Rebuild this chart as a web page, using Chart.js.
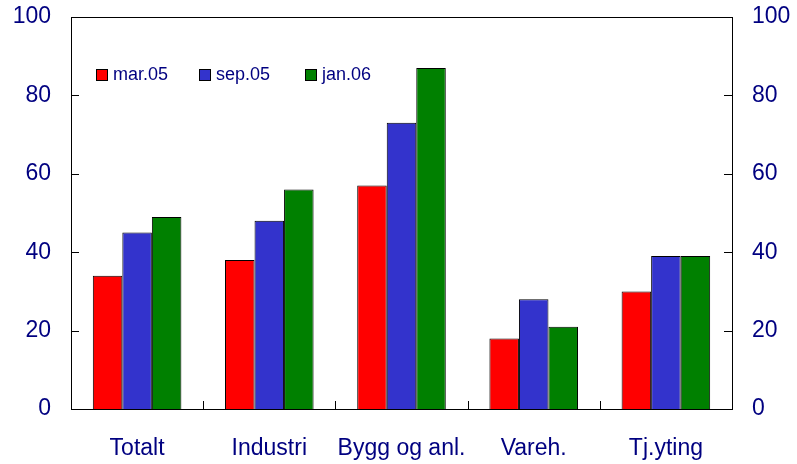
<!DOCTYPE html>
<html>
<head>
<meta charset="utf-8">
<script src="https://cdn.jsdelivr.net/npm/chart.js@4.4.0/dist/chart.umd.min.js"></script>
<style>
  html, body { margin: 0; padding: 0; background: #fff; }
</style>
</head>
<body>
<canvas id="chart" width="797" height="464"></canvas>
<script>
// chart data
const categories = ['Totalt', 'Industri', 'Bygg og anl.', 'Vareh.', 'Tj.yting'];
const seriesNames = ['mar.05', 'sep.05', 'jan.06'];
const mar05 = [34, 38, 57, 18, 30];
const sep05 = [45, 48, 73, 28, 39];
const jan06 = [49, 56, 87, 21, 39];
const yTicks = [0, 20, 40, 60, 80, 100];

const textColor = '#000080';
const fontFamily = '"Liberation Sans", Arial, sans-serif';

// Frame, inward ticks and in-plot legend
const framePlugin = {
  id: 'frame',
  afterDraw(chart) {
    const ctx = chart.ctx;
    const a = chart.chartArea;
    const x = chart.scales.x;
    const y = chart.scales.y;
    ctx.save();
    ctx.strokeStyle = '#000';
    ctx.lineWidth = 1;
    ctx.strokeRect(Math.round(a.left) + 0.5, Math.round(a.top) + 0.5,
      Math.round(a.right - a.left), Math.round(a.bottom - a.top));

    ctx.beginPath();
    yTicks.forEach(v => {
      const py = Math.round(y.getPixelForValue(v)) + 0.5;
      ctx.moveTo(a.left, py); ctx.lineTo(a.left + 8, py);
      ctx.moveTo(a.right, py); ctx.lineTo(a.right - 8, py);
    });
    for (let i = 0; i < categories.length - 1; i++) {
      const px = Math.round((x.getPixelForValue(i) + x.getPixelForValue(i + 1)) / 2) + 0.5;
      ctx.moveTo(px, a.bottom); ctx.lineTo(px, a.bottom - 8);
    }
    ctx.stroke();

    // legend
    const legendX = [96, 199, 305];
    const legendY = 69;
    ctx.font = '18px ' + fontFamily;
    ctx.textBaseline = 'middle';
    ctx.textAlign = 'left';
    chart.data.datasets.forEach((ds, i) => {
      const lx = legendX[i];
      ctx.fillStyle = ds.backgroundColor;
      ctx.fillRect(lx, legendY, 11, 11);
      ctx.strokeRect(lx + 0.5, legendY + 0.5, 11, 11);
      ctx.fillStyle = textColor;
      ctx.fillText(ds.label, lx + 17, legendY + 6);
    });
    ctx.restore();
  }
};

const barStyle = { borderColor: '#000', borderWidth: 1, categoryPercentage: 0.67, barPercentage: 1.0 };

// fixed axis sizes so the plot area matches the original
function fitY(width) {
  return function(scale) {
    scale.width = width;
    scale.paddingTop = 0;
    scale.paddingBottom = 0;
  };
}

new Chart(document.getElementById('chart'), {
  type: 'bar',
  data: {
    labels: categories,
    datasets: [
      Object.assign({ label: seriesNames[0], data: mar05, backgroundColor: '#ff0000' }, barStyle),
      Object.assign({ label: seriesNames[1], data: sep05, backgroundColor: '#3333cc' }, barStyle),
      Object.assign({ label: seriesNames[2], data: jan06, backgroundColor: '#008000' }, barStyle)
    ]
  },
  options: {
    responsive: false,
    animation: false,
    layout: { padding: { top: 17, left: 0, right: 0, bottom: 0 } },
    plugins: {
      legend: { display: false },
      tooltip: { enabled: false }
    },
    scales: {
      x: {
        grid: { display: false, drawTicks: false },
        border: { display: false },
        ticks: { color: textColor, font: { family: fontFamily, size: 23 }, padding: 26, maxRotation: 0 },
        afterFit(scale) { scale.height = 55; }
      },
      y: {
        position: 'left',
        min: 0, max: 100,
        grid: { display: false, drawTicks: false },
        border: { display: false },
        ticks: { stepSize: 20, color: textColor, font: { family: fontFamily, size: 23 }, padding: 20 },
        afterFit: fitY(71)
      },
      y2: {
        position: 'right',
        min: 0, max: 100,
        grid: { display: false, drawTicks: false },
        border: { display: false },
        ticks: { stepSize: 20, color: textColor, font: { family: fontFamily, size: 23 }, padding: 20 },
        afterFit: fitY(65)
      }
    }
  },
  plugins: [framePlugin]
});
</script>
</body>
</html>
